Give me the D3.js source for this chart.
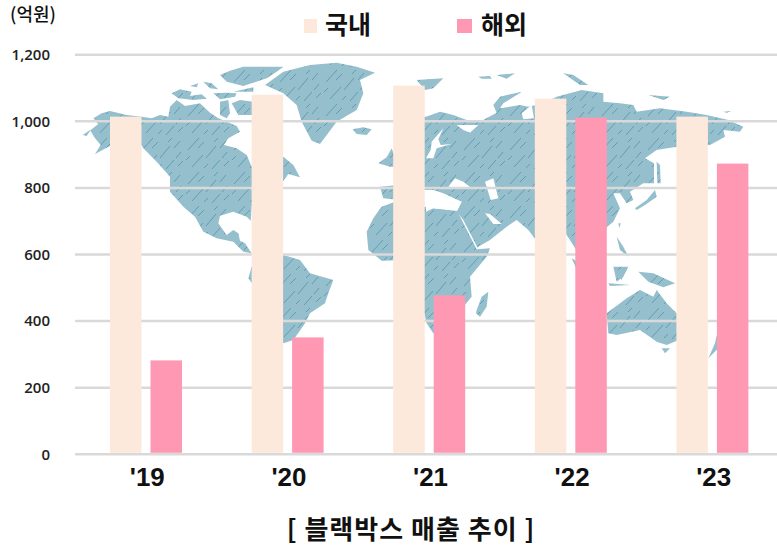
<!DOCTYPE html>
<html>
<head>
<meta charset="utf-8">
<script src="https://cdn.jsdelivr.net/npm/d3@7"></script>
<style>
  html, body { margin: 0; padding: 0; background: #fff; }
  text { font-family: 'Noto Sans CJK KR', 'Noto Sans', sans-serif; fill: #111; }
</style>
</head>
<body>
<div id="chart"></div>
<script>
const years = ["'19", "'20", "'21", "'22", "'23"]
const domestic = [1014, 1080, 1107, 1068, 1014]
const overseas = [282, 351, 477, 1011, 873]
const yTicks = [0, 200, 400, 600, 800, 1000, 1200]
const seriesNames = ['국내', '해외']
const seriesColors = ['#FDE9DB', '#FF99B3']

// background map outlines, in map units (3 units = 1 screen px, origin at 70,50)
const northAmerica = [[38,255],[50,258],[62,240],[85,222],[70,205],[95,190],[120,183],[170,195],[215,200],[245,205],[270,195],[295,200],[300,170],[320,150],[345,168],[390,160],[420,188],[445,205],[470,215],[500,228],[510,245],[475,265],[462,285],[500,295],[530,315],[545,350],[555,300],[600,290],[640,320],[670,345],[690,382],[655,372],[640,392],[590,400],[550,440],[545,470],[542,512],[530,500],[490,485],[450,497],[445,520],[470,555],[490,540],[505,550],[510,572],[525,580],[545,610],[520,605],[490,575],[440,565],[400,545],[375,500],[340,470],[300,425],[300,380],[260,335],[220,295],[200,262],[170,255],[120,288],[75,312],[92,285],[75,265],[60,240]]
const canadaIslands = [
  [[305,130],[330,118],[365,125],[360,138],[395,133],[410,146],[370,150],[325,145]],
  [[360,108],[385,100],[380,112]],
  [[400,95],[425,100],[445,118],[420,115]],
  [[430,130],[470,128],[500,130],[495,140],[450,148]],
  [[450,155],[475,150],[480,190],[470,205],[450,195]],
  [[485,160],[510,150],[550,155],[550,195],[505,195]],
  [[450,75],[480,62],[520,50],[640,50],[620,65],[590,85],[545,100],[520,108],[470,95]],
  [[490,125],[550,112],[550,125]]
]
const greenland = [[585,105],[640,65],[720,45],[800,38],[860,50],[915,68],[870,90],[880,130],[860,180],[800,215],[750,282],[725,272],[695,215],[680,165],[640,130]]
const iceland = [[848,238],[880,232],[905,238],[890,255],[860,252]]
const britain = [[925,340],[950,322],[965,295],[985,350],[960,350]]
const iberia = [[930,410],[985,405],[990,450],[940,445]]
const southAmerica = [[590,610],[640,615],[690,630],[720,670],[790,690],[775,730],[765,760],[720,790],[705,820],[670,870],[640,880],[600,800],[560,720],[535,685],[545,650]]
const africa = [[890,545],[910,505],[935,470],[975,455],[1065,470],[1090,475],[1160,482],[1165,490],[1220,598],[1260,595],[1250,620],[1200,680],[1205,740],[1180,770],[1140,810],[1090,850],[1070,820],[1040,700],[1000,630],[935,632],[895,600]]
const eurasia = [[1030,200],[1068,200],[1110,185],[1150,195],[1190,210],[1230,215],[1280,188],[1270,165],[1290,140],[1355,125],[1340,135],[1300,160],[1290,175],[1350,165],[1375,170],[1420,160],[1460,140],[1535,120],[1600,130],[1600,155],[1650,160],[1690,165],[1700,185],[1770,175],[1850,185],[1910,195],[1975,210],[2020,230],[2010,245],[1960,240],[1965,260],[1920,285],[1820,290],[1760,300],[1725,325],[1752,340],[1752,400],[1720,400],[1680,425],[1690,450],[1670,460],[1650,430],[1630,430],[1650,475],[1630,515],[1610,532],[1590,640],[1550,650],[1500,570],[1480,540],[1440,625],[1375,540],[1340,510],[1310,530],[1260,570],[1222,592],[1180,510],[1160,485],[1175,455],[1120,430],[1090,420],[1040,420],[1030,300]]
const innerSeas = [
  [[1068,325],[1082,300],[1085,275],[1120,235],[1105,268],[1112,285],[1145,282],[1100,295],[1090,325]],
  [[1160,225],[1225,225],[1200,248],[1180,240]],
  [[1135,410],[1155,385],[1180,395],[1205,415]],
  [[1245,395],[1270,385],[1285,445],[1262,450]],
  [[1245,490],[1260,492],[1295,522],[1270,522]],
  [[1068,445],[1120,450],[1175,455],[1160,482],[1090,475],[1068,485]],
  [[1355,190],[1385,165],[1392,205],[1360,208]]
]
const asiaIslands = [
  [[1695,475],[1730,450],[1755,420],[1760,440],[1725,465],[1700,480]],
  [[1760,335],[1770,345],[1772,400],[1762,400]],
  [[1220,780],[1235,740],[1255,725],[1250,770],[1230,800],[1218,790]],
  [[1610,790],[1670,745],[1710,720],[1750,740],[1760,720],[1790,760],[1830,800],[1850,860],[1790,885],[1760,875],[1710,840],[1640,855],[1615,850]],
  [[1915,925],[1935,880],[1940,855],[1945,895]],
  [[1630,650],[1675,650],[1660,680],[1640,695]],
  [[1505,625],[1530,640],[1550,690],[1525,670]],
  [[1705,665],[1750,670],[1815,700],[1780,712],[1735,695]],
  [[1640,560],[1660,590],[1675,620],[1650,600]],
  [[1635,660],[1665,660],[1655,690]],
  [[1615,700],[1680,705],[1620,708]],
  [[1225,80],[1260,78],[1265,86],[1235,86]],
  [[1280,75],[1335,70],[1310,86]],
  [[1480,70],[1510,75],[1555,105],[1530,105]],
  [[1735,135],[1800,140],[1780,150]],
  [[1040,90],[1120,85],[1090,115],[1065,120]],
  [[1775,895],[1800,895],[1785,910]],
  [[1645,520],[1652,520],[1648,535]],
  [[1960,185],[1985,183],[1970,188]]
]

const fullWidth = 777
const fullHeight = 546
const margin = { top: 54.7, left: 75, right: -6, bottom: 91.7 }
const width = fullWidth - margin.left - margin.right
const height = fullHeight - margin.top - margin.bottom

const svg = d3.select('#chart').append('svg')
  .attr('width', fullWidth)
  .attr('height', fullHeight)
  .style('display', 'block')

// hatch fill for the map
const hatch = svg.append('defs').append('pattern')
  .attr('id', 'mapHatch')
  .attr('patternUnits', 'userSpaceOnUse')
  .attr('width', 46)
  .attr('height', 34)
hatch.append('rect').attr('width', 46).attr('height', 34).attr('fill', '#95BFCD')
const hatchDashes = [[4,14,15,2],[22,22,32,10],[36,12,42,5],[8,31,19,19],[28,33,36,24],[40,30,45,25],[2,24,6,20],[14,12,20,6],[30,6,34,2],[20,32,24,28],[38,22,43,16]]
hatch.selectAll('line')
  .data(hatchDashes)
  .enter()
  .append('line')
  .attr('x1', d => d[0])
  .attr('y1', d => d[1])
  .attr('x2', d => d[2])
  .attr('y2', d => d[3])
  .attr('stroke', '#5E9DB2')
  .attr('stroke-width', 1)

const mapX = d3.scaleLinear().domain([0, 3]).range([70, 71])
const mapY = d3.scaleLinear().domain([0, 3]).range([50, 51])
const mapLine = d3.line().x(d => mapX(d[0])).y(d => mapY(d[1])).curve(d3.curveLinearClosed)

const land = [northAmerica, ...canadaIslands, greenland, iceland, britain, iberia, southAmerica, africa, eurasia, ...asiaIslands]
const mapG = svg.append('g')
mapG.selectAll('.land')
  .data(land)
  .enter()
  .append('path')
  .attr('class', 'land')
  .attr('d', mapLine)
  .attr('fill', 'url(#mapHatch)')
mapG.selectAll('.sea')
  .data(innerSeas)
  .enter()
  .append('path')
  .attr('class', 'sea')
  .attr('d', mapLine)
  .attr('fill', '#fff')

const g = svg.append('g').attr('transform', `translate(${margin.left},${margin.top})`)

const xScale = d3.scaleBand().domain(years).range([0, width]).padding(0)
const seriesScale = d3.scaleBand().domain(seriesNames).range([35, 107]).paddingInner(0.222)
const yScale = d3.scaleLinear().domain([0, 1200]).range([height, 0])

// gridlines
g.selectAll('.grid')
  .data(yTicks)
  .enter()
  .append('line')
  .attr('class', 'grid')
  .attr('x1', 0)
  .attr('x2', width)
  .attr('y1', d => yScale(d))
  .attr('y2', d => yScale(d))
  .style('stroke', '#D9D9D9')
  .style('stroke-width', 2.5)

// bars
let allSeries = [domestic, overseas]
allSeries.forEach((values, s) => {
  g.selectAll(`.bar${s}`)
    .data(values)
    .enter()
    .append('rect')
    .attr('class', `bar${s}`)
    .attr('x', (d, i) => xScale(years[i]) + seriesScale(seriesNames[s]))
    .attr('y', d => yScale(d))
    .attr('width', seriesScale.bandwidth())
    .attr('height', d => height - yScale(d) - 1.5)
    .style('fill', seriesColors[s])
})

// axes
const yAxis = g.append('g')
  .attr('transform', 'translate(-25,0)')
  .call(d3.axisLeft(yScale).tickValues(yTicks).tickSize(0).tickPadding(0).tickFormat(d3.format(',')))
yAxis.select('.domain').remove()
yAxis.selectAll('text')
  .style('font-size', '15px')
  .style('font-weight', 600)
  .style('font-family', "'Open Sans', sans-serif")
  .style('fill', '#222')

const xAxis = g.append('g')
  .attr('transform', `translate(1.5,${height})`)
  .call(d3.axisBottom(xScale).tickSize(0).tickPadding(14))
xAxis.select('.domain').remove()
xAxis.selectAll('text')
  .style('font-size', '25px')
  .style('font-weight', 700)
  .style('font-family', "'Liberation Sans', sans-serif")
  .style('fill', '#111')
  .attr('textLength', 35)
  .attr('lengthAdjust', 'spacingAndGlyphs')

// legend
const legendX = [304, 457]
const legendTextX = [325, 481]
seriesNames.forEach((name, i) => {
  svg.append('rect')
    .attr('x', legendX[i])
    .attr('y', 19)
    .attr('width', i == 0 ? 13 : 15)
    .attr('height', 14)
    .style('fill', seriesColors[i])
  svg.append('text')
    .attr('x', legendTextX[i])
    .attr('y', 34)
    .style('font-size', '25px')
    .style('font-weight', 700)
    .text(name)
})

svg.append('text')
  .attr('x', 10)
  .attr('y', 21)
  .style('font-size', '18px')
  .style('font-weight', 500)
  .text('(억원)')

svg.append('text')
  .attr('x', 411)
  .attr('y', 539)
  .attr('text-anchor', 'middle')
  .style('font-size', '26px')
  .style('font-weight', 700)
  .style('letter-spacing', '1px')
  .text('[ 블랙박스 매출 추이 ]')
</script>
</body>
</html>
